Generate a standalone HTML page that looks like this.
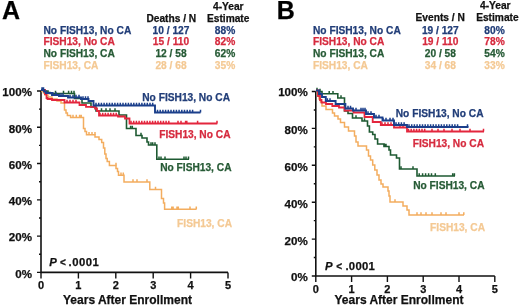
<!DOCTYPE html>
<html><head><meta charset="utf-8"><style>
html,body{margin:0;padding:0;background:#fff;width:520px;height:306px;overflow:hidden}
svg{display:block;filter:blur(0.3px)}
text{font-family:"Liberation Sans",sans-serif;font-weight:bold;stroke-width:0.25px}
.big{font-size:25px;fill:#000;stroke:#000}
.hd{font-size:10.2px;fill:#111;stroke:#111}
.lg{font-size:10.2px}
.ax{font-size:11.6px;fill:#111;stroke:#111}
.xt{font-size:11px;fill:#111;stroke:#111}
.xl{font-size:12px;fill:#111;stroke:#111}
.pv{font-size:11.3px;fill:#111;stroke:#111}
.lt{font-size:10px}
</style></head><body>
<svg width="520" height="306" viewBox="0 0 520 306">
<text x="2" y="18.6" class="big">A</text>
<text x="228.3" y="10.4" text-anchor="middle" class="hd">4-Year</text>
<text x="171.3" y="21.9" text-anchor="middle" class="hd">Deaths / N</text>
<text x="228.2" y="21.9" text-anchor="middle" class="hd">Estimate</text>
<text x="43.5" y="33.5" class="lg" fill="#213d78" stroke="#213d78">No FISH13, No CA</text>
<text x="171" y="33.5" text-anchor="middle" class="lg" fill="#213d78" stroke="#213d78">10 / 127</text>
<text x="225" y="33.5" text-anchor="middle" class="lg" fill="#213d78" stroke="#213d78">88%</text>
<text x="43.5" y="45.2" class="lg" fill="#d62a3e" stroke="#d62a3e">FISH13, No CA</text>
<text x="171" y="45.2" text-anchor="middle" class="lg" fill="#d62a3e" stroke="#d62a3e">15 / 110</text>
<text x="225" y="45.2" text-anchor="middle" class="lg" fill="#d62a3e" stroke="#d62a3e">82%</text>
<text x="43.5" y="57.0" class="lg" fill="#265a35" stroke="#265a35">No FISH13, CA</text>
<text x="171" y="57.0" text-anchor="middle" class="lg" fill="#265a35" stroke="#265a35">12 / 58</text>
<text x="225" y="57.0" text-anchor="middle" class="lg" fill="#265a35" stroke="#265a35">62%</text>
<text x="43.5" y="68.8" class="lg" fill="#f4c994" stroke="#f4c994">FISH13, CA</text>
<text x="171" y="68.8" text-anchor="middle" class="lg" fill="#f4c994" stroke="#f4c994">28 / 68</text>
<text x="225" y="68.8" text-anchor="middle" class="lg" fill="#f4c994" stroke="#f4c994">35%</text>
<path d="M41,91 V272.4 H228.0" stroke="#111" stroke-width="1.6" fill="none"/>
<path d="M37,272.4 H41 M37,236.11999999999998 H41 M37,199.83999999999997 H41 M37,163.56 H41 M37,127.28 H41 M37,91.0 H41 M39,254.26 H41 M39,217.98 H41 M39,181.7 H41 M39,145.42000000000002 H41 M39,109.13999999999999 H41 M41.0,272.4 V278.4 M78.4,272.4 V278.4 M115.8,272.4 V278.4 M153.2,272.4 V278.4 M190.6,272.4 V278.4 M228.0,272.4 V278.4 " stroke="#111" stroke-width="1.4" fill="none"/>
<text x="32" y="277.6" text-anchor="end" class="ax">0%</text>
<text x="32" y="241.4" text-anchor="end" class="ax">20%</text>
<text x="32" y="205.2" text-anchor="end" class="ax">40%</text>
<text x="32" y="169.0" text-anchor="end" class="ax">60%</text>
<text x="32" y="132.8" text-anchor="end" class="ax">80%</text>
<text x="32" y="95.8" text-anchor="end" class="ax">100%</text>
<text x="41.0" y="288.7" text-anchor="middle" class="xt">0</text>
<text x="78.4" y="288.7" text-anchor="middle" class="xt">1</text>
<text x="115.8" y="288.7" text-anchor="middle" class="xt">2</text>
<text x="153.2" y="288.7" text-anchor="middle" class="xt">3</text>
<text x="190.6" y="288.7" text-anchor="middle" class="xt">4</text>
<text x="228.0" y="288.7" text-anchor="middle" class="xt">5</text>
<text x="127.5" y="303.8" text-anchor="middle" class="xl">Years After Enrollment</text>
<text y="265.8" class="pv"><tspan x="49.3" font-style="italic">P</tspan><tspan x="60" class="lt">&lt;</tspan><tspan x="68.6" letter-spacing="0.45">.0001</tspan></text>
<path d="M41,90 L42,90 L42,91.5 L43.5,91.5 L43.5,93 L45,93 L45,95 L48,95 L48,97 L52,97 L52,99 L57,99 L57,101 L61,101 L61,103 L64.5,103 L64.5,110 L66,110 L66,113 L67.4,113 L67.4,115.5 L70.6,115.5 L70.6,117.4 L83.5,117.4 L83.5,128.5 L85,128.5 L85,131.5 L86.5,131.5 L86.5,134.8 L95,134.8 L95,137 L99,137 L99,139.5 L101.7,139.5 L101.7,142.5 L103.5,142.5 L103.5,148 L104.8,148 L104.8,154 L106,154 L106,158.5 L107.2,158.5 L107.2,161.5 L109.4,161.5 L109.4,165.5 L116,165.5 L116,168.5 L117.5,168.5 L117.5,171.5 L118.5,171.5 L118.5,175.3 L124,175.3 L124,182 L149.8,182 L149.8,189.4 L161.5,189.4 L161.5,198.5 L163.5,198.5 L163.5,203 L164.6,203 L164.6,209.2 L196.5,209.2" stroke="#f3ad5f" stroke-width="1.5" fill="none"/>
<path d="M73,117.4 V114.7 M76.3,117.4 V114.7 M79.6,117.4 V114.7 M81.2,117.4 V114.7 M89,134.8 V132.1 M92,134.8 V132.1 M95,134.8 V132.1 M116,165.5 V162.8 M121,175.3 V172.6 M123.3,175.3 V172.6 M133,182 V179.3 M137,182 V179.3 M147,182 V179.3 M155.5,189.4 V186.7 M171.8,209.2 V206.5 M173.1,209.2 V206.5 M177,209.2 V206.5 M178.3,209.2 V206.5 M190,209.2 V206.5 M196.3,209.2 V206.5" stroke="#f3ad5f" stroke-width="1.5" fill="none"/>
<path d="M41,90 L45,90 L45,91 L48,91 L48,92.5 L50,92.5 L50,93.5 L74.5,93.5 L74.5,98.5 L82,98.5 L82,103 L91,103 L91,107 L96,107 L96,111 L119,111 L119,115 L126.5,115 L126.5,128.5 L136,128.5 L136,135.5 L142,135.5 L142,138 L147,138 L147,142 L148.5,142 L148.5,145 L156.8,145 L156.8,159.3 L189,159.3" stroke="#1e5a32" stroke-width="1.6" fill="none"/>
<path d="M55.5,93.5 V90.8 M63.5,93.5 V90.8 M68.6,93.5 V90.8 M71.5,93.5 V90.8 M74,93.5 V90.8 M101.5,111 V108.3 M106,111 V108.3 M110,111 V108.3 M115,111 V108.3 M130.6,128.5 V125.8 M132.3,128.5 V125.8 M141,135.5 V132.8 M151,145 V142.3 M152.7,145 V142.3 M155,145 V142.3 M159,159.3 V156.6 M161,159.3 V156.6 M165,159.3 V156.6 M184,159.3 V156.6 M186,159.3 V156.6 M188.5,159.3 V156.6" stroke="#1e5a32" stroke-width="1.5" fill="none"/>
<path d="M41,90 L45,90 L45,94 L46.5,94 L46.5,98 L47.5,98 L47.5,99 L52,99 L52,100 L64.5,100 L64.5,102.5 L79.5,102.5 L79.5,105 L86,105 L86,106.8 L95,106.8 L95,108.5 L97,108.5 L97,111 L99,111 L99,115.5 L118,115.5 L118,116.5 L125,116.5 L125,118.5 L129.5,118.5 L129.5,123.5 L217.3,123.5" stroke="#e3263d" stroke-width="1.8" fill="none"/>
<path d="M67,102.5 V99.8 M70,102.5 V99.8 M73,102.5 V99.8 M76,102.5 V99.8 M100.0,115.5 V112.8 M102.7,115.5 V112.8 M105.4,115.5 V112.8 M108.1,115.5 V112.8 M110.8,115.5 V112.8 M113.5,115.5 V112.8 M116.2,115.5 V112.8 M131.0,123.5 V120.8 M133.7,123.5 V120.8 M136.4,123.5 V120.8 M139.1,123.5 V120.8 M141.8,123.5 V120.8 M144.5,123.5 V120.8 M147.2,123.5 V120.8 M149.9,123.5 V120.8 M152.6,123.5 V120.8 M155.3,123.5 V120.8 M158.0,123.5 V120.8 M160.7,123.5 V120.8 M163.4,123.5 V120.8 M166.1,123.5 V120.8 M168.8,123.5 V120.8 M178,123.5 V120.8 M181,123.5 V120.8 M185.6,123.5 V120.8 M186.8,123.5 V120.8 M197.6,123.5 V120.8 M217,123.5 V120.8" stroke="#e3263d" stroke-width="1.5" fill="none"/>
<path d="M41,90 L44,90 L44,91.5 L46,91.5 L46,93 L52,93 L52,95 L59,95 L59,96 L68,96 L68,97.5 L81,97.5 L81,99 L88.5,99 L88.5,101 L93.5,101 L93.5,105.5 L155,105.5 L155,112.5 L200.5,112.5" stroke="#1b3f8b" stroke-width="1.9" fill="none"/>
<path d="M42,90 V87.3 M43.5,90 V87.3 M53,95 V92.3 M56,95 V92.3 M61,96 V93.3 M63,96 V93.3 M70,97.5 V94.8 M73,97.5 V94.8 M76,97.5 V94.8 M79,97.5 V94.8 M83,99 V96.3 M85.5,99 V96.3 M88,99 V96.3 M96.0,105.5 V102.8 M98.7,105.5 V102.8 M101.4,105.5 V102.8 M104.1,105.5 V102.8 M106.8,105.5 V102.8 M109.5,105.5 V102.8 M112.2,105.5 V102.8 M114.9,105.5 V102.8 M117.6,105.5 V102.8 M120.3,105.5 V102.8 M123.0,105.5 V102.8 M125.7,105.5 V102.8 M128.4,105.5 V102.8 M131.1,105.5 V102.8 M133.8,105.5 V102.8 M136.5,105.5 V102.8 M139.2,105.5 V102.8 M141.9,105.5 V102.8 M144.6,105.5 V102.8 M147.3,105.5 V102.8 M150.0,105.5 V102.8 M152.7,105.5 V102.8 M157.5,112.5 V109.8 M160.2,112.5 V109.8 M162.9,112.5 V109.8 M165.6,112.5 V109.8 M168.3,112.5 V109.8 M171.0,112.5 V109.8 M173.7,112.5 V109.8 M176.4,112.5 V109.8 M179.1,112.5 V109.8 M181.8,112.5 V109.8 M184.5,112.5 V109.8 M187.2,112.5 V109.8 M189.9,112.5 V109.8 M192.6,112.5 V109.8 M200.5,112.5 V109.8" stroke="#1b3f8b" stroke-width="1.5" fill="none"/>
<text x="230" y="101" text-anchor="end" class="lg" fill="#213d78" stroke="#213d78">No FISH13, No CA</text>
<text x="230.5" y="138" text-anchor="end" class="lg" fill="#d62a3e" stroke="#d62a3e">FISH13, No CA</text>
<text x="231.5" y="171" text-anchor="end" class="lg" fill="#265a35" stroke="#265a35">No FISH13, CA</text>
<text x="232" y="227" text-anchor="end" class="lg" fill="#f4c994" stroke="#f4c994">FISH13, CA</text>
<text x="276.8" y="18.6" class="big">B</text>
<text x="495.3" y="8.9" text-anchor="middle" class="hd">4-Year</text>
<text x="440.2" y="21.2" text-anchor="middle" class="hd">Events / N</text>
<text x="497.4" y="21.2" text-anchor="middle" class="hd">Estimate</text>
<text x="313" y="33.6" class="lg" fill="#213d78" stroke="#213d78">No FISH13, No CA</text>
<text x="440.3" y="33.6" text-anchor="middle" class="lg" fill="#213d78" stroke="#213d78">19 / 127</text>
<text x="494.5" y="33.6" text-anchor="middle" class="lg" fill="#213d78" stroke="#213d78">80%</text>
<text x="313" y="45.4" class="lg" fill="#d62a3e" stroke="#d62a3e">FISH13, No CA</text>
<text x="440.3" y="45.4" text-anchor="middle" class="lg" fill="#d62a3e" stroke="#d62a3e">19 / 110</text>
<text x="494.5" y="45.4" text-anchor="middle" class="lg" fill="#d62a3e" stroke="#d62a3e">78%</text>
<text x="313" y="57.2" class="lg" fill="#265a35" stroke="#265a35">No FISH13, CA</text>
<text x="440.3" y="57.2" text-anchor="middle" class="lg" fill="#265a35" stroke="#265a35">20 / 58</text>
<text x="494.5" y="57.2" text-anchor="middle" class="lg" fill="#265a35" stroke="#265a35">54%</text>
<text x="313" y="69.0" class="lg" fill="#f4c994" stroke="#f4c994">FISH13, CA</text>
<text x="440.3" y="69.0" text-anchor="middle" class="lg" fill="#f4c994" stroke="#f4c994">34 / 68</text>
<text x="494.5" y="69.0" text-anchor="middle" class="lg" fill="#f4c994" stroke="#f4c994">33%</text>
<path d="M315.8,91.5 V276 H494.8" stroke="#111" stroke-width="1.6" fill="none"/>
<path d="M311.8,276.0 H315.8 M311.8,239.1 H315.8 M311.8,202.2 H315.8 M311.8,165.3 H315.8 M311.8,128.4 H315.8 M311.8,91.5 H315.8 M313.8,257.55 H315.8 M313.8,220.65 H315.8 M313.8,183.75 H315.8 M313.8,146.85 H315.8 M313.8,109.94999999999999 H315.8 M315.8,276 V282 M351.6,276 V282 M387.4,276 V282 M423.2,276 V282 M459.0,276 V282 M494.8,276 V282 " stroke="#111" stroke-width="1.4" fill="none"/>
<text x="307.8" y="281.4" text-anchor="end" class="ax">0%</text>
<text x="307.8" y="244.5" text-anchor="end" class="ax">20%</text>
<text x="307.8" y="207.6" text-anchor="end" class="ax">40%</text>
<text x="307.8" y="170.7" text-anchor="end" class="ax">60%</text>
<text x="307.8" y="133.8" text-anchor="end" class="ax">80%</text>
<text x="307.8" y="96.1" text-anchor="end" class="ax">100%</text>
<text x="315.8" y="292.8" text-anchor="middle" class="xt">0</text>
<text x="351.6" y="292.8" text-anchor="middle" class="xt">1</text>
<text x="387.4" y="292.8" text-anchor="middle" class="xt">2</text>
<text x="423.2" y="292.8" text-anchor="middle" class="xt">3</text>
<text x="459.0" y="292.8" text-anchor="middle" class="xt">4</text>
<text x="494.8" y="292.8" text-anchor="middle" class="xt">5</text>
<text x="399" y="303.6" text-anchor="middle" class="xl">Years After Enrollment</text>
<text y="269.7" class="pv"><tspan x="324.9" font-style="italic">P</tspan><tspan x="336.2" class="lt">&lt;</tspan><tspan x="345.4" letter-spacing="0.3">.0001</tspan></text>
<path d="M316,90.5 L317.5,90.5 L317.5,95 L319,95 L319,99 L320.5,99 L320.5,102 L322,102 L322,106 L326,106 L326,109.5 L332.5,109.5 L332.5,113 L334.5,113 L334.5,116 L338,116 L338,119 L340.5,119 L340.5,122.5 L344.5,122.5 L344.5,127 L348.5,127 L348.5,131 L354.5,131 L354.5,136 L356,136 L356,142 L358,142 L358,146 L366.5,146 L366.5,150 L368.5,150 L368.5,156 L370.5,156 L370.5,160 L372.7,160 L372.7,165 L374.8,165 L374.8,170 L377,170 L377,175 L379,175 L379,180 L381,180 L381,184 L383,184 L383,187 L388,187 L388,191 L389,191 L389,196 L390,196 L390,202 L403,202 L403,206 L407,206 L407,210 L409,210 L409,215 L464,215" stroke="#f3ad5f" stroke-width="1.5" fill="none"/>
<path d="M395,202 V199.3 M417,215 V212.3 M421,215 V212.3 M426,215 V212.3 M432,215 V212.3 M441,215 V212.3 M446,215 V212.3 M459,215 V212.3 M463.8,215 V212.3" stroke="#f3ad5f" stroke-width="1.5" fill="none"/>
<path d="M316,90.5 L318,90.5 L318,91.5 L322,91.5 L322,93.7 L337.8,93.7 L337.8,98 L344.5,98 L344.5,111 L348,111 L348,113.5 L352.5,113.5 L352.5,118 L362,118 L362,121 L367.5,121 L367.5,126 L369.4,126 L369.4,132 L372.7,132 L372.7,134.5 L375,134.5 L375,139 L377.6,139 L377.6,144 L384,144 L384,146.5 L389,146.5 L389,150 L390.5,150 L390.5,155 L396.5,155 L396.5,158 L399.5,158 L399.5,169 L417,169 L417,176 L455,176" stroke="#1e5a32" stroke-width="1.6" fill="none"/>
<path d="M317,90.5 V87.8 M320,91.5 V88.8 M329.2,93.7 V91.0 M333,93.7 V91.0 M341,98 V95.3 M356,118 V115.3 M364.5,121 V118.3 M384.5,146.5 V143.8 M386,146.5 V143.8 M401,169 V166.3 M413,169 V166.3 M419.2,176 V173.3 M422.6,176 V173.3 M425.6,176 V173.3 M428.6,176 V173.3 M431.5,176 V173.3 M435.3,176 V173.3 M452.7,176 V173.3 M454.4,176 V173.3" stroke="#1e5a32" stroke-width="1.5" fill="none"/>
<path d="M316,90.5 L318,90.5 L318,96 L320,96 L320,100 L321.5,100 L321.5,102.5 L326,102.5 L326,104 L332.3,104 L332.3,106 L339,106 L339,107.5 L344.6,107.5 L344.6,110.5 L353.6,110.5 L353.6,112.5 L364.5,112.5 L364.5,117 L372.7,117 L372.7,122 L380.8,122 L380.8,125 L394,125 L394,127.5 L407,127.5 L407,131.5 L484,131.5" stroke="#e3263d" stroke-width="1.8" fill="none"/>
<path d="M382,125 V122.3 M385,125 V122.3 M388,125 V122.3 M391,125 V122.3 M400,127.5 V124.8 M403,127.5 V124.8 M408.5,131.5 V128.8 M411.2,131.5 V128.8 M413.9,131.5 V128.8 M416.6,131.5 V128.8 M419.3,131.5 V128.8 M422.0,131.5 V128.8 M424.7,131.5 V128.8 M432,131.5 V128.8 M438,131.5 V128.8 M444,131.5 V128.8 M452,131.5 V128.8 M460,131.5 V128.8 M470,131.5 V128.8 M483.5,131.5 V128.8" stroke="#e3263d" stroke-width="1.5" fill="none"/>
<path d="M316,90.5 L319,90.5 L319,91.5 L319,94 L322,94 L322,97 L325.8,97 L325.8,101 L335.6,101 L335.6,104 L345.4,104 L345.4,108.5 L353,108.5 L353,110.5 L366,110.5 L366,114 L374,114 L374,117.5 L382.5,117.5 L382.5,120.5 L394,120.5 L394,125 L407,125 L407,127 L468.5,127" stroke="#1b3f8b" stroke-width="1.9" fill="none"/>
<path d="M320,94 V91.3 M327.4,101 V98.3 M330,101 V98.3 M348,108.5 V105.8 M350.5,108.5 V105.8 M356,110.5 V107.8 M361,110.5 V107.8 M363,110.5 V107.8 M365,110.5 V107.8 M368,114 V111.3 M371,114 V111.3 M376,117.5 V114.8 M379,117.5 V114.8 M383,120.5 V117.8 M386,120.5 V117.8 M390,120.5 V117.8 M393,120.5 V117.8 M396.0,125 V122.3 M398.7,125 V122.3 M401.4,125 V122.3 M404.1,125 V122.3 M409.0,127 V124.3 M411.7,127 V124.3 M414.4,127 V124.3 M417.1,127 V124.3 M419.8,127 V124.3 M422.5,127 V124.3 M425.2,127 V124.3 M427.9,127 V124.3 M430.6,127 V124.3 M433.3,127 V124.3 M436.0,127 V124.3 M438.7,127 V124.3 M441.4,127 V124.3 M444.1,127 V124.3 M446.8,127 V124.3 M449.5,127 V124.3 M452.2,127 V124.3 M454.9,127 V124.3 M457.6,127 V124.3 M467.5,127 V124.3" stroke="#1b3f8b" stroke-width="1.5" fill="none"/>
<text x="483.5" y="117" text-anchor="end" class="lg" fill="#213d78" stroke="#213d78">No FISH13, No CA</text>
<text x="484" y="147" text-anchor="end" class="lg" fill="#d62a3e" stroke="#d62a3e">FISH13, No CA</text>
<text x="484.5" y="189" text-anchor="end" class="lg" fill="#265a35" stroke="#265a35">No FISH13, CA</text>
<text x="485" y="231.4" text-anchor="end" class="lg" fill="#f4c994" stroke="#f4c994">FISH13, CA</text>
</svg>
</body></html>
